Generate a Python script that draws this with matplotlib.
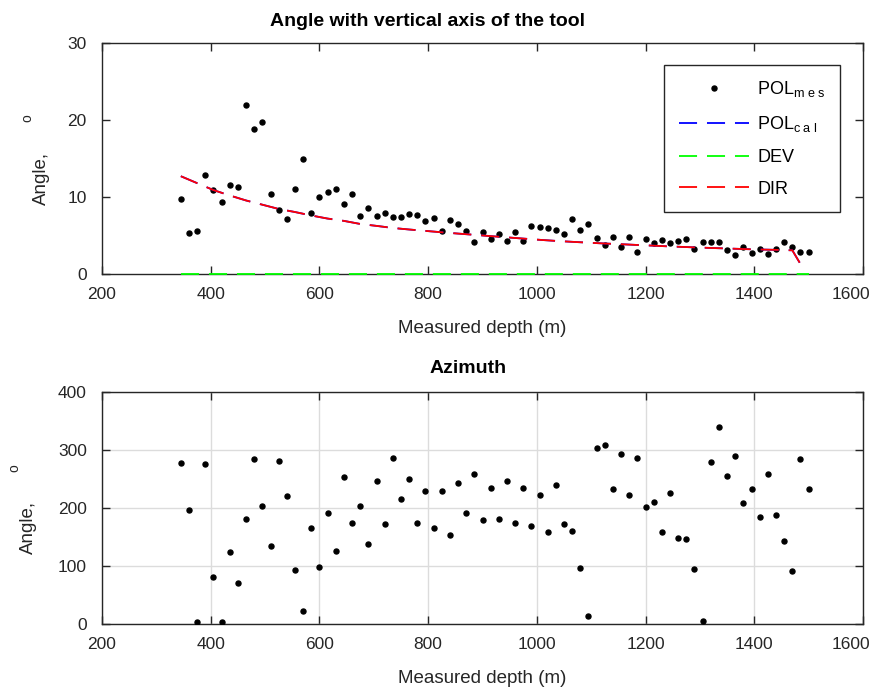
import matplotlib
matplotlib.use('Agg')
import matplotlib.pyplot as plt
from matplotlib.transforms import ScaledTranslation

# measured depths (m)
depth = [345, 360, 375, 390, 405, 420, 435, 450, 465, 480,
         495, 510, 525, 540, 555, 570, 585, 600, 615, 630,
         645, 660, 675, 690, 705, 720, 735, 750, 765, 780,
         795, 810, 825, 840, 855, 870, 885, 900, 915, 930,
         945, 960, 975, 990, 1005, 1020, 1035, 1050, 1065, 1080,
         1095, 1110, 1125, 1140, 1155, 1170, 1185, 1200, 1215, 1230,
         1245, 1260, 1275, 1290, 1305, 1320, 1335, 1350, 1365, 1380,
         1395, 1410, 1425, 1440, 1455, 1470, 1485, 1500]

# measured inclination (deg)
pol_mes = [9.8, 5.3, 5.6, 12.8, 10.9, 9.4, 11.5, 11.35, 21.9, 18.8,
           19.7, 10.4, 8.3, 7.2, 11.0, 14.9, 7.9, 10.0, 10.6, 11.0,
           9.1, 10.4, 7.5, 8.6, 7.55, 7.95, 7.4, 7.4, 7.85, 7.7,
           6.9, 7.25, 5.65, 7.0, 6.5, 5.65, 4.1, 5.5, 4.5, 5.25,
           4.3, 5.45, 4.35, 6.2, 6.05, 5.95, 5.75, 5.2, 7.15, 5.75,
           6.5, 4.65, 3.75, 4.8, 3.45, 4.85, 2.9, 4.55, 4.0, 4.45,
           4.0, 4.3, 4.6, 3.3, 4.2, 4.1, 4.2, 3.1, 2.5, 3.45,
           2.75, 3.3, 2.6, 3.25, 4.15, 3.5, 2.8, 2.85]

# calculated inclination (POL cal / DIR)
calc_depth = [345, 375, 405, 435, 465, 495, 525, 555, 585, 615,
              645, 675, 705, 735, 765, 795, 825, 855, 885, 915,
              945, 975, 1005, 1035, 1065, 1095, 1125, 1155, 1185, 1215,
              1245, 1275, 1305, 1335, 1365, 1395, 1425, 1455, 1470, 1485]
pol_cal = [12.7, 11.8, 10.9, 10.2, 9.55, 9.0, 8.45, 8.05, 7.6, 7.2,
           6.9, 6.5, 6.25, 5.98, 5.78, 5.6, 5.42, 5.25, 5.09, 4.92,
           4.76, 4.6, 4.44, 4.3, 4.18, 4.07, 3.96, 3.87, 3.77, 3.68,
           3.58, 3.5, 3.42, 3.35, 3.28, 3.21, 3.16, 3.11, 3.08, 1.3]
dir_cal = list(pol_cal)
dev = [0.0] * len(depth)

# azimuth (deg)
azimuth = [277, 197, 3, 276, 81, 3, 125, 70, 181, 285,
           203, 135, 281, 220, 93, 22, 166, 99, 192, 126,
           254, 175, 203, 138, 246, 173, 287, 216, 250, 174,
           230, 166, 230, 153, 243, 192, 259, 179, 234, 181,
           246, 174, 234, 169, 222, 158, 239, 172, 160, 96,
           14, 304, 308, 232, 293, 223, 286, 201, 210, 158,
           226, 149, 146, 95, 5, 280, 339, 255, 289, 208,
           232, 185, 258, 188, 143, 91, 285, 232]

plt.rcParams['font.family'] = ['Liberation Sans', 'DejaVu Sans']
plt.rcParams['mathtext.fontset'] = 'custom'
plt.rcParams['mathtext.rm'] = 'Liberation Sans'
plt.rcParams['mathtext.it'] = 'Liberation Sans'

dash = (0, (10, 5.5))
frame = '#262626'

fig = plt.figure(figsize=(8.78, 6.89), dpi=100)
ax1 = fig.add_axes([0.1162, 0.6023, 0.8667, 0.3353])
ax2 = fig.add_axes([0.1162, 0.0943, 0.8667, 0.3367])


def style(ax, lab_x, deg_x, deg_y):
    for s in ax.spines.values():
        s.set_color(frame)
        s.set_linewidth(1.0)
    ax.tick_params(direction='in', top=True, right=True, length=6, width=1,
                   color=frame, labelsize=12.5, labelcolor='#262626')
    ax.tick_params(axis='x', pad=9)
    ax.tick_params(axis='y', pad=11)
    ax.set_xlim(200, 1600)
    ax.set_xticks(range(200, 1601, 200))
    # last tick label pulled inside the figure
    last = ax.get_xticklabels()[-1]
    last.set_transform(last.get_transform() + ScaledTranslation(-12 / 100, 0, fig.dpi_scale_trans))
    ax.set_xlabel('Measured depth (m)', fontsize=13.5, labelpad=13, color='#262626')
    ax.set_ylabel('Angle,', fontsize=13.5, color='#262626')
    ax.yaxis.set_label_coords(lab_x, 0.415)
    ax.text(deg_x, deg_y, 'o', fontsize=10, rotation=90, color='#262626',
            ha='center', va='center', transform=ax.transAxes)


# top: inclination
ax1.plot(depth, pol_mes, 'o', color='k', ms=3.6, ls='none', label=r'POL$_{\rm m\ e\ s}$')
ax1.plot(calc_depth, pol_cal, color='b', lw=1.3, ls=dash, label=r'POL$_{\rm c\ a\ l}$')
ax1.plot(depth, dev, color='#00ff00', lw=1.3, ls=dash, label='DEV', clip_on=False, zorder=5)
ax1.plot(calc_depth, dir_cal, color='r', lw=1.3, ls=dash, label='DIR')
style(ax1, -0.068, -0.098, 0.675)
ax1.set_ylim(0, 30)
ax1.set_yticks([0, 10, 20, 30])
ax1.set_title('Angle with vertical axis of the tool', fontsize=14, fontweight='bold',
              x=0.428, pad=12)
leg = ax1.legend(loc='upper right', bbox_to_anchor=(0.970, 0.905), borderaxespad=0,
                 fancybox=False, edgecolor=frame, framealpha=1, fontsize=13,
                 handlelength=3.9, handletextpad=0.45, labelspacing=0.82,
                 borderpad=0.8)
leg.get_frame().set_linewidth(1.0)

# bottom: azimuth
ax2.plot(depth, azimuth, 'o', color='k', ms=3.6, ls='none', zorder=3)
style(ax2, -0.085, -0.1156, 0.672)
ax2.set_ylim(0, 400)
ax2.set_yticks([0, 100, 200, 300, 400])
ax2.grid(True, color='#dcdcdc', lw=1.0)
ax2.set_axisbelow(True)
ax2.set_title('Azimuth', fontsize=14, fontweight='bold', x=0.481, pad=14)

fig.savefig('out.png', dpi=100)
